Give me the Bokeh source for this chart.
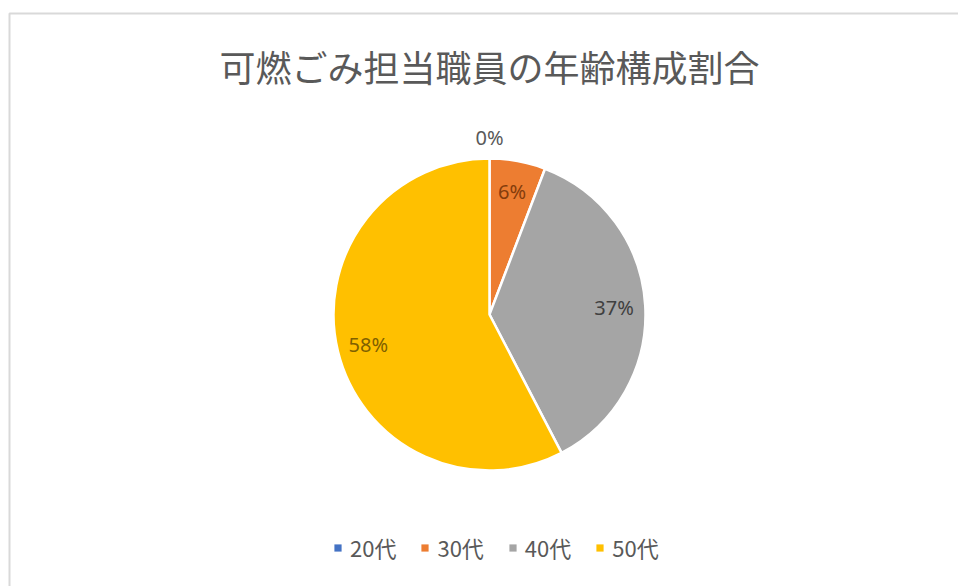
import math
from bokeh.plotting import figure
from bokeh.models import Range1d, Legend, LegendItem, ColumnDataSource
from bokeh.embed import file_html
from bokeh.resources import INLINE
from bokeh.core.properties import value

title_text = "可燃ごみ担当職員の年齢構成割合"
categories = ["20代", "30代", "40代", "50代"]
shares = [0.0, 5.8, 36.6, 57.7]
colors = ["#4472C4", "#ED7D31", "#A5A5A5", "#FFC000"]
label_colors = ["#595959", "#843C0C", "#404040", "#7F6000"]

W, H = 958, 586
CX, CY_TOP, R = 489, 314, 156
CY = H - CY_TOP

total = sum(shares)
starts, ends, mids = [], [], []
acc = 0.0
for s in shares:
    a0 = acc / total * 2 * math.pi
    acc += s
    a1 = acc / total * 2 * math.pi
    starts.append(math.pi / 2 - a1)
    ends.append(math.pi / 2 - a0)
    mids.append((a0 + a1) / 2)

nz = [i for i, s in enumerate(shares) if s > 0]
wedge_src = ColumnDataSource(dict(
    start=[starts[i] for i in nz],
    end=[ends[i] for i in nz],
    color=[colors[i] for i in nz],
))

lx, ly, lt, lc = [], [], [], []
for i, s in enumerate(shares):
    r = R * 0.8 if s >= 1 else R * 1.135
    lx.append(CX + r * math.sin(mids[i]))
    ly.append(CY + r * math.cos(mids[i]))
    lt.append(f"{round(s / total * 100)}%")
    lc.append(label_colors[i])
label_src = ColumnDataSource(dict(x=lx, y=ly, text=lt, color=lc))

p = figure(width=W, height=H, x_range=Range1d(0, W), y_range=Range1d(0, H),
           min_border=0, toolbar_location=None, output_backend="svg",
           x_axis_location=None, y_axis_location=None)
p.grid.visible = False
p.outline_line_color = None
p.background_fill_color = "white"
p.border_fill_color = "white"

# chart-area border (top and left visible)
p.line(x=[9, 9, W], y=[0, H - 13, H - 13], line_color="#D9D9D9", line_width=2)

p.text(x=[CX], y=[H - 65], text=[title_text], text_font=value("Noto Sans CJK JP"),
       text_font_size="36px", text_color="#595959", text_align="center",
       text_baseline="middle")

p.wedge(x=CX, y=CY, radius=R, start_angle="start", end_angle="end",
        direction="anticlock", fill_color="color", line_color="white",
        line_width=2.5, source=wedge_src)

p.text(x="x", y="y", text="text", text_color="color", source=label_src,
       text_font=value("Noto Sans"), text_font_size="20px",
       text_align="center", text_baseline="middle")

nan = float("nan")
legend_src = ColumnDataSource(dict(
    l=[nan] * len(categories), r=[nan] * len(categories),
    t=[nan] * len(categories), b=[nan] * len(categories),
    color=colors, label=categories,
))
leg_r = p.quad(left="l", right="r", top="t", bottom="b", fill_color="color",
               line_color=None, source=legend_src)
items = [LegendItem(label=cat, renderers=[leg_r], index=i)
         for i, cat in enumerate(categories)]

legend = Legend(items=items, orientation="horizontal", location=(333, 23),
                glyph_width=9, glyph_height=9, label_standoff=8, spacing=24,
                padding=0, margin=0, border_line_color=None,
                background_fill_alpha=0,
                label_text_font="Noto Sans CJK JP", label_text_font_size="22px",
                label_text_color="#595959")
p.add_layout(legend, "center")

open("out.html", "w").write(file_html(p, INLINE))
